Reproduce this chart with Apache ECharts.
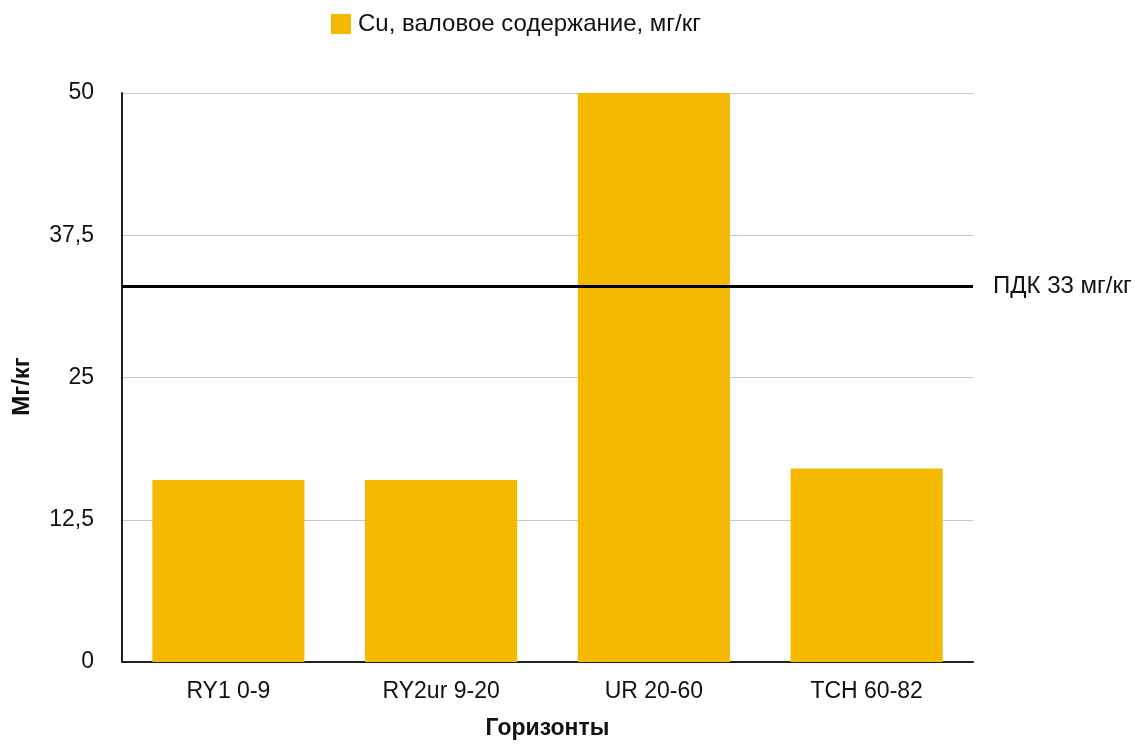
<!DOCTYPE html>
<html>
<head>
<meta charset="utf-8">
<script src="https://cdn.jsdelivr.net/npm/echarts@6/dist/echarts.min.js"></script>
<style>
html,body{margin:0;padding:0;background:#fff;overflow:hidden;}
#chart{width:1143px;height:744px;}
</style>
</head>
<body>
<div id="chart"></div>
<script>
var categories = ['RY1 0-9', 'RY2ur 9-20', 'UR 20-60', 'TCH 60-82'];
var cuValues = [16, 16, 50, 17];
var seriesName = 'Cu, валовое содержание, мг/кг';
var pdkValue = 33;
var pdkLabel = 'ПДК 33 мг/кг';
var yTicks = [0, 12.5, 25, 37.5, 50];

var font = '"Liberation Sans", Arial, Helvetica, sans-serif';
var chart = echarts.init(document.getElementById('chart'), null, {renderer: 'canvas'});
chart.setOption({
  animation: false,
  backgroundColor: '#fff',
  textStyle: {fontFamily: font},
  legend: {
    top: 7,
    left: 326,
    itemWidth: 20,
    itemHeight: 20,
    itemGap: 10,
    icon: 'rect',
    textStyle: {fontSize: 24, color: '#111', fontFamily: font, padding: [0, 0, 0, 2]},
    data: [seriesName]
  },
  grid: {left: 122, right: 170, top: 93, bottom: 82, containLabel: false, outerBoundsMode: 'none'},
  xAxis: {
    type: 'category',
    data: categories,
    name: 'Горизонты',
    nameLocation: 'middle',
    nameGap: 55,
    nameTextStyle: {fontSize: 23, fontWeight: 'bold', color: '#111', fontFamily: font},
    axisLine: {lineStyle: {color: '#222', width: 2}},
    axisTick: {show: false},
    axisLabel: {fontSize: 23, color: '#111', margin: 18, fontFamily: font},
    splitLine: {show: false}
  },
  yAxis: {
    type: 'value',
    min: yTicks[0],
    max: yTicks[yTicks.length - 1],
    interval: yTicks[1] - yTicks[0],
    name: 'Мг/кг',
    nameLocation: 'middle',
    nameGap: 88,
    nameRotate: 90,
    nameTextStyle: {fontSize: 24, fontWeight: 'bold', color: '#111', fontFamily: font, padding: [0, 18, 0, 0]},
    axisLine: {show: true, lineStyle: {color: '#222', width: 2}},
    axisTick: {show: false},
    axisLabel: {
      fontSize: 23, color: '#111', margin: 28, fontFamily: font,
      formatter: function (v) { return String(v).replace('.', ','); }
    },
    splitLine: {lineStyle: {color: '#c8c8c8', width: 1}}
  },
  series: [{
    name: seriesName,
    type: 'bar',
    data: cuValues,
    barWidth: '71.5%',
    itemStyle: {color: '#F5BA00'},
    markLine: {
      silent: true,
      symbol: ['none', 'none'],
      lineStyle: {color: '#000', width: 3, type: 'solid'},
      label: {
        show: true,
        position: 'end',
        distance: 20,
        formatter: pdkLabel,
        fontSize: 24,
        color: '#111',
        fontFamily: font
      },
      data: [{yAxis: pdkValue}]
    }
  }]
});
</script>
</body>
</html>
